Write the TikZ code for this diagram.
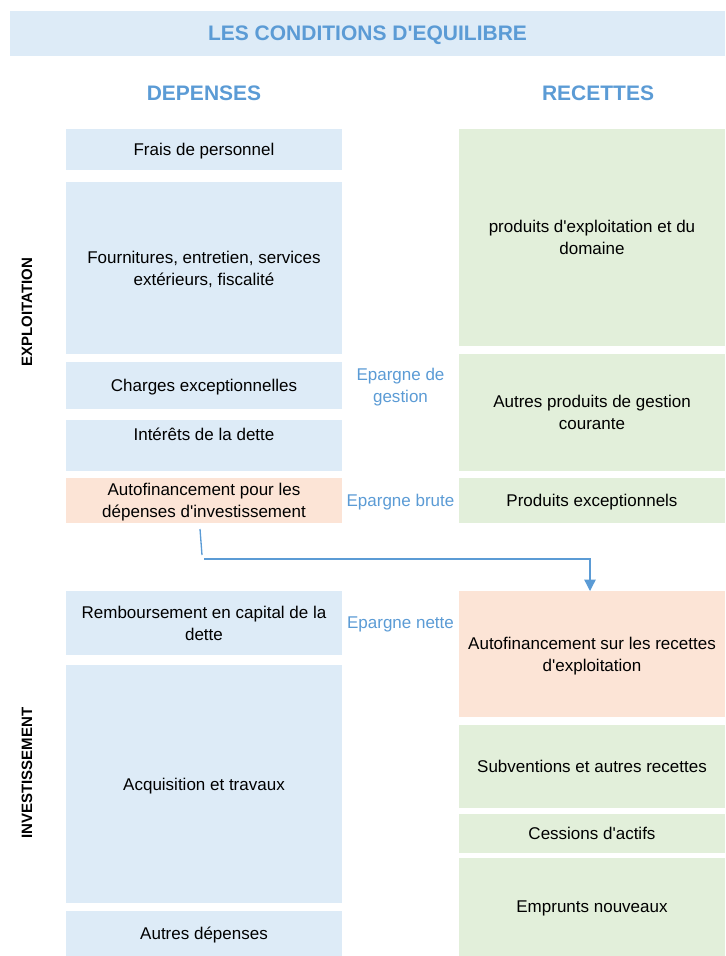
\documentclass[tikz,border=0pt]{standalone}
\usepackage{fontspec}
\setmainfont{Liberation Sans}
\usepackage{tikz}
\usetikzlibrary{positioning,calc,arrows.meta}
\definecolor{titleblue}{RGB}{91,155,213}
\definecolor{depblue}{RGB}{221,235,247}
\definecolor{recgreen}{RGB}{226,239,218}
\definecolor{autoorange}{RGB}{252,228,214}
\newcommand{\apos}{\textquotesingle}

\begin{document}
\begin{tikzpicture}[x=0.75pt,y=-0.75pt,
    every node/.style={font=\fontsize{12.75}{16.5}\selectfont, inner sep=0pt, outer sep=0pt},
    depbox/.style={rectangle, fill=depblue, minimum width=207pt, align=center, text depth=0pt},
    recbox/.style={rectangle, fill=recgreen, minimum width=199.5pt, align=center, text depth=0pt},
    autobox/.style={fill=autoorange},
    heading/.style={font=\fontsize{15.75}{18}\selectfont\bfseries, text=titleblue},
    sidelabel/.style={font=\fontsize{11.25}{12}\selectfont\bfseries, rotate=90},
    epargne/.style={text=titleblue, align=center, text depth=0pt},
    flowline/.style={draw=titleblue, line width=1pt}]
    \useasboundingbox (0,0) rectangle (725,956);

    % Title band
    \node[heading, fill=depblue, minimum width=536.25pt, minimum height=33.75pt, text depth=0pt] (title) at (367.5,33.5) {LES CONDITIONS D\apos EQUILIBRE};
    \node[heading] (dep) at (204,93) {DEPENSES};
    \node[heading] (rec) at (598,93) {RECETTES};

    % Side labels
    \node[sidelabel] (exploit) at (27,312) {EXPLOITATION};
    \node[sidelabel] (invest) at (27,773) {INVESTISSEMENT};

    % Depenses
    \node[depbox, minimum height=30.75pt, anchor=north] (frais) at (204,129) {Frais de personnel};
    \node[depbox, minimum height=129pt, below=9pt of frais] (fourn) {Fournitures, entretien, services\\extérieurs, fiscalité};
    \node[depbox, minimum height=35.25pt, below=6pt of fourn] (charges) {Charges exceptionnelles};
    \node[depbox, minimum height=38.25pt, below=8.25pt of charges] (interets) {Intérêts de la dette\\~};
    \node[depbox, autobox, minimum height=33.75pt, below=5.25pt of interets] (autodep) {Autofinancement pour les\\dépenses d\apos investissement};
    \node[depbox, minimum height=48pt, below=51pt of autodep] (rembours) {Remboursement en capital de la\\dette};
    \node[depbox, minimum height=178.5pt, below=7.5pt of rembours] (acquis) {Acquisition et travaux};
    \node[depbox, minimum height=33.75pt, below=6pt of acquis] (autresdep) {Autres dépenses};

    % Recettes
    \node[recbox, minimum height=162.75pt, anchor=north] (prodexp) at (592,129) {produits d\apos exploitation et du\\domaine};
    \node[recbox, minimum height=87.75pt, below=6pt of prodexp] (autprod) {Autres produits de gestion\\courante};
    \node[recbox, minimum height=33.75pt, below=5.25pt of autprod] (prodexc) {Produits exceptionnels};
    \node[recbox, autobox, minimum height=94.5pt, below=51pt of prodexc] (autorec) {Autofinancement sur les recettes\\d\apos exploitation};
    \node[recbox, minimum height=62.25pt, below=6pt of autorec] (subv) {Subventions et autres recettes};
    \node[recbox, minimum height=29.25pt, below=4.5pt of subv] (cessions) {Cessions d\apos actifs};
    \node[recbox, minimum height=73.5pt, below=3.75pt of cessions] (emprunts) {Emprunts nouveaux};

    % Epargnes
    \node[epargne] (egestion) at ($(charges.east)!0.5!(charges.east -| prodexp.west)$) {Epargne de\\gestion};
    \node[epargne] (ebrute) at ($(autodep.east)!0.5!(prodexc.west)$) {Epargne brute};
    \node[epargne] (enette) at ($(rembours.east)!0.5!(rembours.east -| autorec.west)$) {Epargne nette};

    % Flow of autofinancement
    \coordinate (tailtop) at (200,529);
    \coordinate (tailend) at (202,555);
    \coordinate (bend) at (204,559);
    \draw[flowline] (tailtop) -- (tailend);
    \draw[flowline, -{Triangle[width=8.5pt,length=8.5pt]}] (bend) -| ([xshift=-1.5pt]autorec.north);
\end{tikzpicture}
\end{document}
